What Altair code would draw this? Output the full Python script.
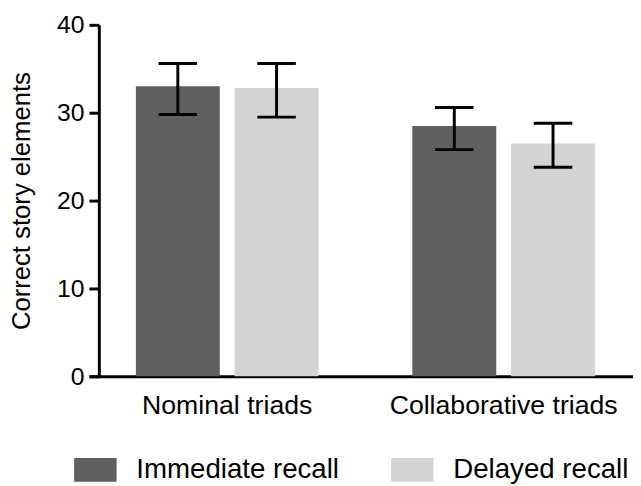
import altair as alt
import pandas as pd

groups = ["Nominal triads", "Collaborative triads"]
conditions = ["Immediate recall", "Delayed recall"]
row_group = ["Nominal triads", "Nominal triads", "Collaborative triads", "Collaborative triads"]
row_condition = ["Immediate recall", "Delayed recall", "Immediate recall", "Delayed recall"]
means = [33.0, 32.8, 28.5, 26.5]
lower = [29.8, 29.5, 25.8, 23.8]
upper = [35.6, 35.6, 30.6, 28.8]
colors = ["#606060", "#d3d3d3"]
y_ticks = [0, 10, 20, 30, 40]

df = pd.DataFrame({
    "group": row_group,
    "condition": row_condition,
    "mean": means,
    "lower": lower,
    "upper": upper,
})

FONT = "Liberation Sans"
YTITLE = "Correct story elements"

x_axis = alt.Axis(title=None, labelAngle=0, ticks=False, tickSize=0, labelPadding=17,
                  labelFontSize=27, labelColor="black", domainWidth=3, domainColor="black",
                  labelFont=FONT, labelLimit=400, grid=False)
y_axis = alt.Axis(title=YTITLE, values=y_ticks,
                  tickSize=10, tickWidth=3, tickColor="black",
                  domainWidth=3, domainColor="black", grid=False,
                  labelFontSize=25, labelColor="black", labelPadding=5,
                  labelFont=FONT, titleFont=FONT,
                  titleFontSize=26, titleFontWeight="normal", titleColor="black",
                  titlePadding=22)
x_scale = alt.Scale(range=[-10, 550], paddingInner=0, paddingOuter=0)
xo_scale = alt.Scale(paddingInner=0.15, paddingOuter=0.475)
y_scale = alt.Scale(domain=[0, 40], nice=False, zero=True)


def xenc():
    return alt.X("group:N", sort=groups, scale=x_scale, axis=x_axis)


def xoenc():
    return alt.XOffset("condition:N", sort=conditions, scale=xo_scale)


def yenc(field):
    return alt.Y(field + ":Q", scale=y_scale, axis=y_axis, title=YTITLE)


bars = alt.Chart(df).mark_bar().encode(
    x=xenc(),
    xOffset=xoenc(),
    y=yenc("mean"),
    color=alt.Color("condition:N", sort=conditions,
                    scale=alt.Scale(domain=conditions, range=colors),
                    legend=alt.Legend(title=None, orient="none", legendX=-25, legendY=429,
                                      direction="horizontal",
                                      symbolType="M-1,-0.56H1V0.56H-1Z", symbolSize=1849,
                                      symbolStrokeWidth=0, symbolOpacity=1,
                                      labelFontSize=28, labelFont=FONT, labelColor="black",
                                      labelOffset=20, columnPadding=52, padding=0,
                                      labelLimit=400)),
)

rules = alt.Chart(df).mark_rule(color="black", strokeWidth=3).encode(
    x=xenc(),
    xOffset=xoenc(),
    y=yenc("lower"),
    y2="upper:Q",
)

caps_top = alt.Chart(df).mark_tick(color="black", thickness=3, size=39, opacity=1).encode(
    x=xenc(),
    xOffset=xoenc(),
    y=yenc("upper"),
)
caps_bot = alt.Chart(df).mark_tick(color="black", thickness=3, size=39, opacity=1).encode(
    x=xenc(),
    xOffset=xoenc(),
    y=yenc("lower"),
)

chart = alt.layer(bars, rules, caps_top, caps_bot).properties(
    width=541, height=356,
    autosize=alt.AutoSizeParams(type="none"),
    padding={"left": 92, "top": 14, "right": 0, "bottom": 108},
).configure(font=FONT).configure_view(stroke=None).configure_axis(grid=False)

chart.save("out.html", embed_options={"renderer": "svg", "actions": False})
